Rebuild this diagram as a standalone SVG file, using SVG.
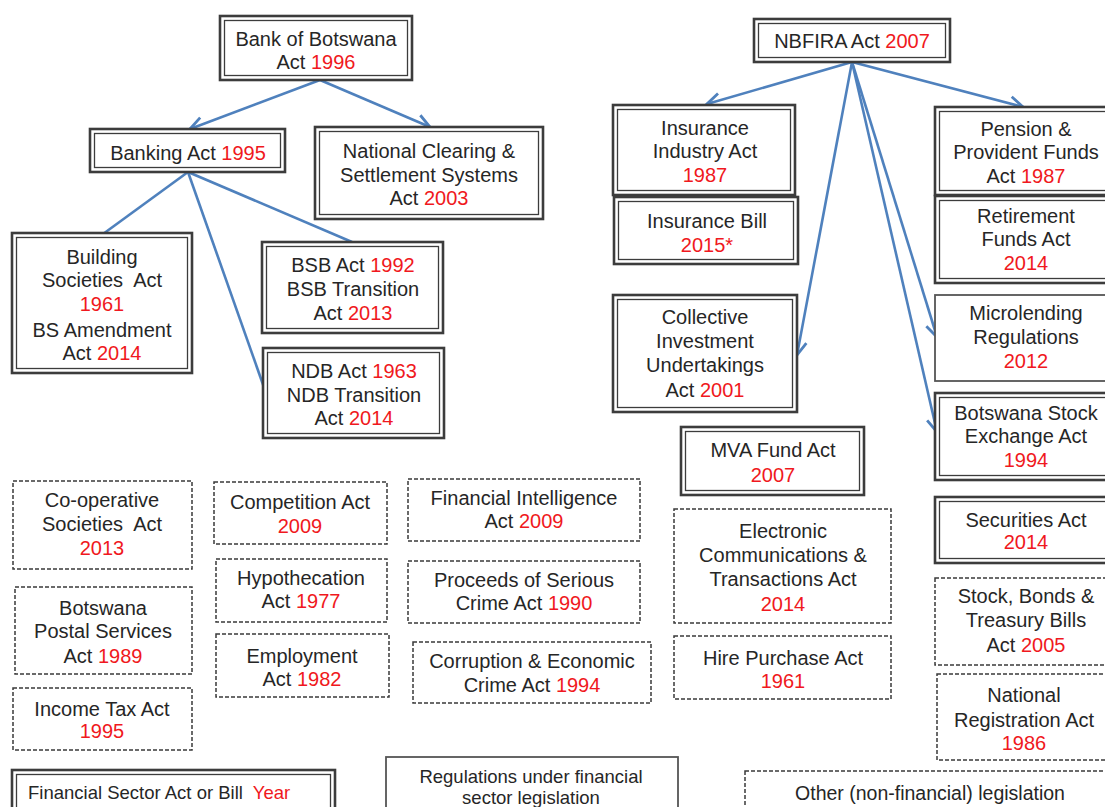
<svg xmlns="http://www.w3.org/2000/svg" width="1105" height="807" viewBox="0 0 1105 807">
<style>
text{font-family:"Liberation Sans",Arial,sans-serif;font-size:20px;fill:#262626;text-anchor:middle;white-space:pre}
.r{fill:#f01820}
.o{fill:#fff;stroke:#3c3c3c;stroke-width:2.6}
.i{fill:none;stroke:#3c3c3c;stroke-width:1.3}
.d{fill:#fff;stroke:#3a3a3a;stroke-width:1.5;stroke-dasharray:4 2}
.s{fill:#fff;stroke:#555;stroke-width:1.8}
.c{fill:none;stroke:#4f81bd;stroke-width:2.6}
.lg{font-size:18.5px}
</style>
<defs>
<marker id="ah" markerUnits="userSpaceOnUse" markerWidth="18" markerHeight="18" viewBox="0 0 18 18" refX="16" refY="9" orient="auto">
<path d="M2.5,2 L16,9 L2.5,16" fill="none" stroke="#4f81bd" stroke-width="2.8"/>
</marker>
</defs>
<rect width="1105" height="807" fill="#fff"/>

<g id="connectors">
<line class="c" x1="320" y1="80" x2="190" y2="129" marker-end="url(#ah)"/>
<line class="c" x1="320" y1="80" x2="430" y2="127" marker-end="url(#ah)"/>
<line class="c" x1="188" y1="172" x2="103" y2="234"/>
<line class="c" x1="188" y1="172" x2="352" y2="242"/>
<line class="c" x1="188" y1="172" x2="266" y2="393"/>
<line class="c" x1="852" y1="62" x2="707" y2="104" marker-end="url(#ah)"/>
<line class="c" x1="852" y1="62" x2="1023" y2="107" marker-end="url(#ah)"/>
<line class="c" x1="852" y1="62" x2="797" y2="355" marker-end="url(#ah)"/>
<line class="c" x1="852" y1="62" x2="937" y2="337" marker-end="url(#ah)"/>
<line class="c" x1="852" y1="62" x2="937" y2="432" marker-end="url(#ah)"/>
</g>

<g id="bob"><rect class="o" x="220" y="16" width="192" height="64"/><rect class="i" x="224.5" y="20.5" width="183" height="55"/>
<text x="316" y="46">Bank of Botswana</text><text x="316" y="69">Act <tspan class="r">1996</tspan></text></g>

<g id="banking"><rect class="o" x="90" y="129" width="195" height="43"/><rect class="i" x="94.5" y="133.5" width="186" height="34"/>
<text x="188" y="160">Banking Act <tspan class="r">1995</tspan></text></g>

<g id="ncss"><rect class="o" x="315" y="127" width="228" height="92"/><rect class="i" x="319.5" y="131.5" width="219" height="83"/>
<text x="429" y="158">National Clearing &amp;</text><text x="429" y="182">Settlement Systems</text><text x="429" y="205">Act <tspan class="r">2003</tspan></text></g>

<g id="bsa"><rect class="o" x="12" y="233" width="180" height="140"/><rect class="i" x="16.5" y="237.5" width="171" height="131"/>
<text x="102" y="264">Building</text><text x="102" y="287">Societies  Act</text><text x="102" y="311" class="r">1961</text><text x="102" y="337">BS Amendment</text><text x="102" y="360">Act <tspan class="r">2014</tspan></text></g>

<g id="bsb"><rect class="o" x="262" y="242" width="181" height="91"/><rect class="i" x="266.5" y="246.5" width="172" height="82"/>
<text x="353" y="272">BSB Act <tspan class="r">1992</tspan></text><text x="353" y="296">BSB Transition</text><text x="353" y="320">Act <tspan class="r">2013</tspan></text></g>

<g id="ndb"><rect class="o" x="263" y="348" width="181" height="90"/><rect class="i" x="267.5" y="352.5" width="172" height="81"/>
<text x="354" y="378">NDB Act <tspan class="r">1963</tspan></text><text x="354" y="402">NDB Transition</text><text x="354" y="425">Act <tspan class="r">2014</tspan></text></g>

<g id="nbfira"><rect class="o" x="754" y="19" width="196" height="43"/><rect class="i" x="758.5" y="23.5" width="187" height="34"/>
<text x="852" y="48">NBFIRA Act <tspan class="r">2007</tspan></text></g>

<g id="insurance"><rect class="o" x="613" y="105" width="182" height="90"/><rect class="i" x="617.5" y="109.5" width="173" height="81"/>
<text x="705" y="135">Insurance</text><text x="705" y="158">Industry Act</text><text x="705" y="182" class="r">1987</text></g>

<g id="insbill"><rect class="o" x="614" y="197" width="184" height="67"/><rect class="i" x="618.5" y="201.5" width="175" height="58"/>
<text x="707" y="228">Insurance Bill</text><text x="707" y="252" class="r">2015*</text></g>

<g id="pension"><rect class="o" x="935" y="107" width="185" height="88"/><rect class="i" x="939.5" y="111.5" width="176" height="79"/>
<text x="1026" y="136">Pension &amp;</text><text x="1026" y="159">Provident Funds</text><text x="1026" y="183">Act <tspan class="r">1987</tspan></text></g>

<g id="retirement"><rect class="o" x="935" y="196" width="185" height="87"/><rect class="i" x="939.5" y="200.5" width="176" height="78"/>
<text x="1026" y="223">Retirement</text><text x="1026" y="246">Funds Act</text><text x="1026" y="270" class="r">2014</text></g>

<g id="microlending"><rect class="s" x="935" y="295" width="185" height="86"/>
<text x="1026" y="320">Microlending</text><text x="1026" y="344">Regulations</text><text x="1026" y="368" class="r">2012</text></g>

<g id="bse"><rect class="o" x="935" y="393" width="185" height="87"/><rect class="i" x="939.5" y="397.5" width="176" height="78"/>
<text x="1026" y="420">Botswana Stock</text><text x="1026" y="443">Exchange Act</text><text x="1026" y="467" class="r">1994</text></g>

<g id="securities"><rect class="o" x="935" y="497" width="185" height="66"/><rect class="i" x="939.5" y="501.5" width="176" height="57"/>
<text x="1026" y="527">Securities Act</text><text x="1026" y="549" class="r">2014</text></g>

<g id="stockbonds"><rect class="d" x="935" y="578" width="185" height="87"/>
<text x="1026" y="603">Stock, Bonds &amp;</text><text x="1026" y="627">Treasury Bills</text><text x="1026" y="652">Act <tspan class="r">2005</tspan></text></g>

<g id="natreg"><rect class="d" x="937" y="674" width="185" height="86"/>
<text x="1024" y="702">National</text><text x="1024" y="727">Registration Act</text><text x="1024" y="750" class="r">1986</text></g>

<g id="collective"><rect class="o" x="613" y="295" width="184" height="117"/><rect class="i" x="617.5" y="299.5" width="175" height="108"/>
<text x="705" y="324">Collective</text><text x="705" y="348">Investment</text><text x="705" y="372">Undertakings</text><text x="705" y="397">Act <tspan class="r">2001</tspan></text></g>

<g id="mva"><rect class="o" x="681" y="427" width="183" height="68"/><rect class="i" x="685.5" y="431.5" width="174" height="59"/>
<text x="773" y="457">MVA Fund Act</text><text x="773" y="482" class="r">2007</text></g>

<g id="ecta"><rect class="d" x="674" y="509" width="217" height="114"/>
<text x="783" y="538">Electronic</text><text x="783" y="562">Communications &amp;</text><text x="783" y="586">Transactions Act</text><text x="783" y="611" class="r">2014</text></g>

<g id="hire"><rect class="d" x="674" y="636" width="217" height="63"/>
<text x="783" y="665">Hire Purchase Act</text><text x="783" y="688" class="r">1961</text></g>

<g id="coop"><rect class="d" x="13" y="481" width="179" height="88"/>
<text x="102" y="507">Co-operative</text><text x="102" y="531">Societies  Act</text><text x="102" y="555" class="r">2013</text></g>

<g id="postal"><rect class="d" x="15" y="587" width="177" height="87"/>
<text x="103" y="615">Botswana</text><text x="103" y="638">Postal Services</text><text x="103" y="663">Act <tspan class="r">1989</tspan></text></g>

<g id="incometax"><rect class="d" x="13" y="688" width="179" height="62"/>
<text x="102" y="716">Income Tax Act</text><text x="102" y="738" class="r">1995</text></g>

<g id="competition"><rect class="d" x="214" y="482" width="173" height="62"/>
<text x="300" y="509">Competition Act</text><text x="300" y="533" class="r">2009</text></g>

<g id="hypothecation"><rect class="d" x="216" y="559" width="171" height="63"/>
<text x="301" y="585">Hypothecation</text><text x="301" y="608">Act <tspan class="r">1977</tspan></text></g>

<g id="employment"><rect class="d" x="216" y="634" width="173" height="63"/>
<text x="302" y="663">Employment</text><text x="302" y="686">Act <tspan class="r">1982</tspan></text></g>

<g id="finintel"><rect class="d" x="408" y="479" width="232" height="62"/>
<text x="524" y="505">Financial Intelligence</text><text x="524" y="528">Act <tspan class="r">2009</tspan></text></g>

<g id="proceeds"><rect class="d" x="408" y="561" width="232" height="62"/>
<text x="524" y="587">Proceeds of Serious</text><text x="524" y="610">Crime Act <tspan class="r">1990</tspan></text></g>

<g id="corruption"><rect class="d" x="413" y="642" width="238" height="61"/>
<text x="532" y="668">Corruption &amp; Economic</text><text x="532" y="692">Crime Act <tspan class="r">1994</tspan></text></g>

<g id="legend-act"><rect class="o" x="12" y="770" width="323" height="48"/><rect class="i" x="16.5" y="774.5" width="314" height="39"/>
<text class="lg" x="28" y="799" style="text-anchor:start">Financial Sector Act or Bill  <tspan class="r">Year</tspan></text></g>

<g id="legend-reg"><rect class="s" x="386" y="757" width="292" height="60"/>
<text class="lg" x="531" y="783">Regulations under financial</text><text class="lg" x="531" y="804">sector legislation</text></g>

<g id="legend-other"><rect class="d" x="745" y="771" width="370" height="46"/>
<text class="lg" x="930" y="800" style="font-size:19.5px">Other (non-financial) legislation</text></g>
</svg>
